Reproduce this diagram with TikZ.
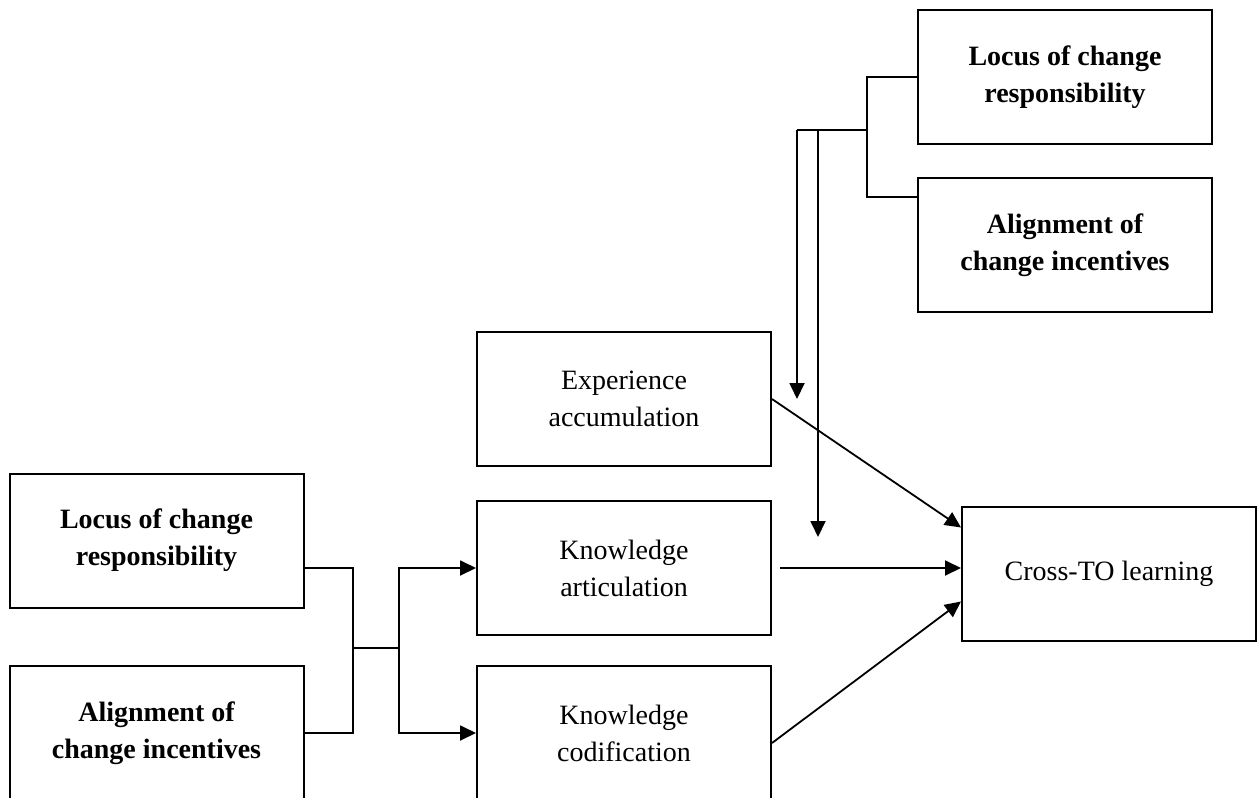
\documentclass[tikz,border=0pt]{standalone}
\usepackage{fontspec}
\setmainfont{Liberation Serif}
\usetikzlibrary{positioning, arrows.meta}
\tikzset{
  factorBox/.style={
    draw,
    line width=1pt,
    minimum width=147pt,
    minimum height=67pt,
    inner sep=0pt,
    align=center,
    font=\fontsize{14}{18.5}\selectfont
  },
  keyFactor/.style={
    factorBox,
    font=\fontsize{14}{18.5}\selectfont\bfseries
  },
  link/.style={
    line width=0.9pt
  },
  linkArrow/.style={
    link,
    -{Triangle[length=8pt, width=7.5pt]}
  }
}

\begin{document}
\begin{tikzpicture}[x=0.5pt, y=-0.5pt]
  \useasboundingbox (0,0) rectangle (1257,797);

  % moderators
  \node[keyFactor] (locTop) at (1065,77) {Locus of change\\responsibility};
  \node[keyFactor, below=16pt of locTop] (aliTop) {Alignment of\\change incentives};

  % mediators
  \node[factorBox] (expAcc) at (624,399) {Experience\\accumulation};
  \node[factorBox, below=16.5pt of expAcc] (knowArt) {Knowledge\\articulation};
  \node[factorBox] (knowCod) at (624,733) {Knowledge\\codification};

  % antecedents and outcome
  \node[keyFactor] (locLeft) at (156.5,540.5) {Locus of change\\responsibility};
  \node[keyFactor] (aliLeft) at (156.5,733) {Alignment of\\change incentives};
  \node[factorBox] (crossTO) at (1109,573.5) {Cross-TO learning};

  \coordinate (jL) at (353,648);
  \coordinate (jR) at (399,648);
  \coordinate (jT) at (867,130);
  \coordinate (aliTopIn) at (917,197);
  \coordinate (dropA) at (797,130);
  \coordinate (dropB) at (818,130);
  \coordinate (tipB) at (818,537);

  % left bracket
  \draw[link] (locLeft.east |- knowArt.west) -| (jL) |- (aliLeft.east);
  \draw[link] (jL) -- (jR);
  \draw[linkArrow] (jR) |- (knowArt.west);
  \draw[linkArrow] (jR) |- (knowCod.west);

  % top bracket
  \draw[link] (locTop.west) -| (jT) |- (aliTopIn);
  \draw[link] (jT) -- (dropA);
  \draw[linkArrow] (dropA) -- (dropA |- expAcc.east);
  \draw[linkArrow] (dropB) -- (tipB);

  % into the outcome
  \draw[linkArrow] (expAcc.east) -- ([yshift=-11pt]crossTO.north west);
  \draw[linkArrow] ([xshift=4pt]knowArt.east) -- (knowArt.east -| crossTO.west);
  \draw[linkArrow] ([yshift=-5pt]knowCod.east) -- ([yshift=20pt]crossTO.south west);
\end{tikzpicture}
\end{document}
